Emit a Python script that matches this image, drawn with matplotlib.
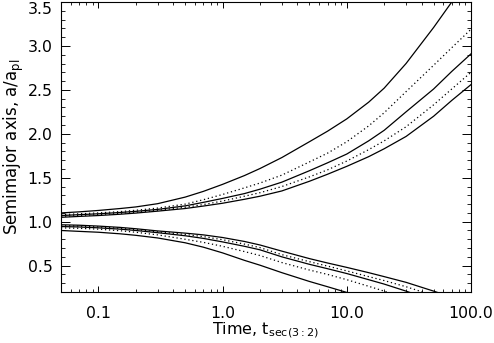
import matplotlib
matplotlib.use("Agg")
import matplotlib.pyplot as plt
from matplotlib.ticker import FixedLocator, NullFormatter, MultipleLocator

# Data
time = [0.05, 0.07, 0.1, 0.15, 0.2, 0.3, 0.5, 0.7, 1, 1.5, 2, 3, 5, 7,
        10, 15, 20, 30, 50, 70, 100]

upper_1 = [1.10, 1.112, 1.128, 1.15, 1.168, 1.205, 1.28, 1.345, 1.425, 1.525, 1.605,
           1.73, 1.91, 2.03, 2.17, 2.36, 2.52, 2.80, 3.21, 3.50, 3.87]
upper_2 = [1.08, 1.09, 1.10, 1.115, 1.13, 1.155, 1.20, 1.25, 1.31, 1.385, 1.44,
           1.53, 1.68, 1.78, 1.91, 2.09, 2.24, 2.48, 2.78, 2.98, 3.19]
upper_3 = [1.07, 1.08, 1.09, 1.105, 1.118, 1.14, 1.18, 1.22, 1.265, 1.32, 1.37,
           1.45, 1.58, 1.67, 1.77, 1.92, 2.04, 2.25, 2.51, 2.71, 2.91]
upper_4 = [1.06, 1.07, 1.08, 1.095, 1.108, 1.13, 1.165, 1.195, 1.235, 1.29, 1.33,
           1.40, 1.51, 1.59, 1.69, 1.82, 1.92, 2.08, 2.33, 2.51, 2.70]
upper_5 = [1.05, 1.06, 1.07, 1.085, 1.098, 1.12, 1.15, 1.178, 1.21, 1.255, 1.29,
           1.35, 1.46, 1.54, 1.63, 1.74, 1.83, 1.97, 2.20, 2.38, 2.56]

lower_1 = [0.965, 0.96, 0.95, 0.935, 0.92, 0.895, 0.87, 0.85, 0.82, 0.775, 0.735,
           0.665, 0.58, 0.53, 0.48, 0.42, 0.375, 0.31, 0.21, 0.14, 0.06]
lower_2 = [0.955, 0.95, 0.94, 0.925, 0.91, 0.885, 0.855, 0.83, 0.795, 0.745, 0.705,
           0.625, 0.545, 0.495, 0.44, 0.375, 0.33, 0.26, 0.16, 0.09, 0.01]
lower_3 = [0.945, 0.94, 0.93, 0.915, 0.90, 0.875, 0.84, 0.81, 0.77, 0.72, 0.68,
           0.60, 0.515, 0.465, 0.41, 0.34, 0.29, 0.21, 0.10, 0.03, -0.05]
lower_4 = [0.93, 0.925, 0.915, 0.897, 0.88, 0.85, 0.80, 0.765, 0.72, 0.66, 0.615,
           0.535, 0.45, 0.40, 0.34, 0.265, 0.21, 0.13, 0.02, -0.05, -0.13]
lower_5 = [0.90, 0.89, 0.88, 0.862, 0.845, 0.815, 0.76, 0.71, 0.645, 0.56, 0.505,
           0.42, 0.32, 0.26, 0.195, 0.12, 0.07, -0.02, -0.12, -0.18, -0.25]

styles = ["solid", "dotted", "solid", "dotted", "solid"]

x_ticks = [0.1, 1.0, 10.0, 100.0]
x_tick_labels = ["0.1", "1.0", "10.0", "100.0"]
y_ticks = [0.5, 1.0, 1.5, 2.0, 2.5, 3.0, 3.5]
y_tick_labels = ["0.5", "1.0", "1.5", "2.0", "2.5", "3.0", "3.5"]

plt.rcParams["font.family"] = ["DejaVu Sans"]
plt.rcParams["mathtext.default"] = "regular"

fig = plt.figure(figsize=(4.94, 3.43), dpi=100)
ax = fig.add_axes([61 / 494, 1 - 292 / 343, 410 / 494, 290 / 343])

for group in ([upper_1, upper_2, upper_3, upper_4, upper_5],
              [lower_1, lower_2, lower_3, lower_4, lower_5]):
    for ys, st in zip(group, styles):
        ls = "-" if st == "solid" else (0, (1, 2.2))
        ax.plot(time, ys, color="black", lw=0.9, linestyle=ls)

ax.set_xscale("log")
ax.set_xlim(0.05, 100)
ax.set_ylim(0.2, 3.5)

ax.xaxis.set_major_locator(FixedLocator(x_ticks))
ax.set_xticklabels(x_tick_labels)
ax.yaxis.set_major_locator(FixedLocator(y_ticks))
ax.set_yticklabels(y_tick_labels)
ax.yaxis.set_minor_locator(MultipleLocator(0.1))
ax.xaxis.set_minor_formatter(NullFormatter())

for sp in ax.spines.values():
    sp.set_linewidth(0.8)

ax.tick_params(axis="x", which="major", direction="in", length=4.5, width=0.7,
               top=True, bottom=True, labelsize=11.3, pad=10, colors="black")
ax.tick_params(axis="x", which="minor", direction="in", length=2.3, width=0.6,
               top=True, bottom=True)
ax.tick_params(axis="y", which="major", direction="in", length=6.5, width=0.7,
               left=True, right=True, labelsize=11.3, pad=6)
ax.tick_params(axis="y", which="minor", direction="in", length=3.2, width=0.6,
               left=True, right=True)

# top y label sits just below the frame edge, as in the reference
ax.get_yticklabels()[-1].set_verticalalignment("top")

ax.set_xlabel("Time, t$_{sec(3:2)}$", fontsize=11.5, labelpad=0)
ax.set_ylabel("Semimajor axis, a/a$_{pl}$", fontsize=12, labelpad=1)

fig.savefig("out.png", dpi=100)
